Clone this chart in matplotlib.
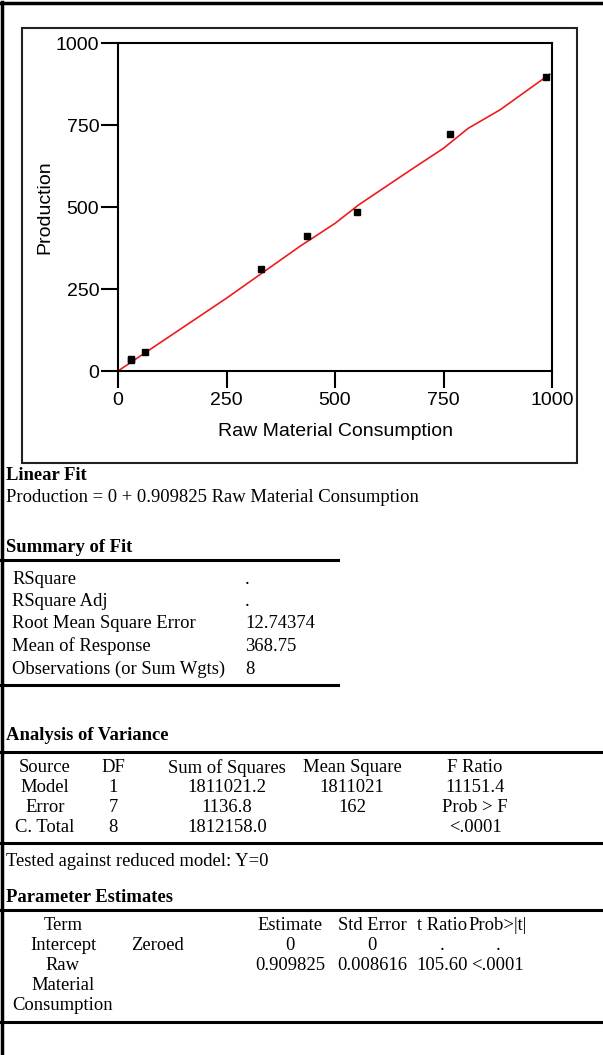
import matplotlib
matplotlib.use('Agg')
import matplotlib.pyplot as plt
from matplotlib.lines import Line2D
from matplotlib.patches import Rectangle

W, H = 603, 1055

# data
raw_material = [29, 30, 62, 329, 436, 550, 765, 986]
production = [34, 36, 59, 311, 411, 484, 722, 895]
fit_x = [0, 250, 419, 500, 554, 680, 750, 807, 880, 995]
fit_y = [0, 222, 380, 450, 506, 618, 679, 740, 796, 905]
ticks = [0, 250, 500, 750, 1000]

summary_labels = ['RSquare', 'RSquare Adj', 'Root Mean Square Error',
                  'Mean of Response', 'Observations (or Sum Wgts)']
summary_values = ['.', '.', '12.74374', '368.75', '8']

anova_header = ['Source', 'DF', 'Sum of Squares', 'Mean Square', 'F Ratio']
anova_rows = [['Model', '1', '1811021.2', '1811021', '11151.4'],
              ['Error', '7', '1136.8', '162', 'Prob > F'],
              ['C. Total', '8', '1812158.0', '', '<.0001']]

param_header = ['Term', '', 'Estimate', 'Std Error', 't Ratio', 'Prob>|t|']
param_rows = [['Intercept', 'Zeroed', '0', '0', '.', '.'],
              ['Raw', '', '0.909825', '0.008616', '105.60', '<.0001'],
              ['Material', '', '', '', '', ''],
              ['Consumption', '', '', '', '', '']]

fig = plt.figure(figsize=(W / 100, H / 100), dpi=100)

def fx(x):
    return x / W

def fy(y):
    return 1 - y / H

def hline(x0, x1, y, lw=2.2):
    fig.add_artist(Line2D([fx(x0), fx(x1)], [fy(y), fy(y)], color='black',
                          lw=lw, transform=fig.transFigure))

def txt(x, y, s, ha='left', bold=False, size=13.4):
    fig.text(fx(x), fy(y), s, ha=ha, va='center', fontsize=size,
             family='Liberation Serif', weight='bold' if bold else 'normal')

# outer frame (left and top edges)
fig.add_artist(Line2D([fx(1.5), fx(1.5)], [0, fy(2)], color='black', lw=2.5,
                      transform=fig.transFigure))
hline(0, W, 2.5, lw=2.5)

# box around the plot
fig.add_artist(Rectangle((fx(22), fy(463)), fx(577) - fx(22), fy(28) - fy(463),
                         fill=False, ec='#222222', lw=1.5,
                         transform=fig.transFigure))

ax = fig.add_axes([fx(118), fy(371), fx(552) - fx(118), fy(43) - fy(371)])
ax.plot(fit_x, fit_y, color='#ee1c1c', lw=1.2, zorder=2)
ax.plot(raw_material, production, 's', color='black', ms=4, zorder=3)
ax.set_xlim(0, 1000)
ax.set_ylim(0, 1000)
ax.set_xticks(ticks)
ax.set_yticks(ticks)
for sp in ax.spines.values():
    sp.set_linewidth(1.5)
ax.tick_params(direction='out', length=12, width=1.5, labelsize=14)
ax.tick_params(axis='x', pad=3)
ax.tick_params(axis='y', pad=1.5)
for lab in ax.get_xticklabels() + ax.get_yticklabels():
    lab.set_family('Liberation Sans')
ax.set_xlabel('Raw Material Consumption', fontsize=14, family='Liberation Sans',
              labelpad=10)
ax.set_ylabel('Production', fontsize=14, family='Liberation Sans')
ax.yaxis.set_label_coords(-0.15, 0.5)

# Linear fit
txt(6, 475, 'Linear Fit', bold=True)
txt(6, 497, 'Production = 0 + 0.909825 Raw Material Consumption')

# Summary of fit
txt(6, 548, 'Summary of Fit', bold=True)
hline(0, 338, 560)
for i, (lab, val) in enumerate(zip(summary_labels, summary_values)):
    y = 579 + i * 22.5
    txt(12, y, lab)
    txt(245, y, val)
hline(0, 338, 685)

# Analysis of variance
txt(6, 735, 'Analysis of Variance', bold=True)
hline(0, W, 752)
anova_x = [45, 113, 227, 352, 475]
for x, s in zip(anova_x, anova_header):
    txt(x, 768, s, ha='center')
for r, row in enumerate(anova_rows):
    for x, s in zip(anova_x, row):
        txt(x, 788 + r * 20, s, ha='center')
hline(0, W, 843)
txt(6, 861, 'Tested against reduced model: Y=0')

# Parameter estimates
txt(6, 898, 'Parameter Estimates', bold=True)
hline(0, W, 910)
param_x = [63, 157, 290, 372, 442, 498]
for x, s in zip(param_x, param_header):
    txt(x, 925, s, ha='center')
for r, row in enumerate(param_rows):
    for x, s in zip(param_x, row):
        txt(x, 945 + r * 20, s, ha='center')
hline(0, W, 1022)

fig.savefig('out.png', dpi=100)
